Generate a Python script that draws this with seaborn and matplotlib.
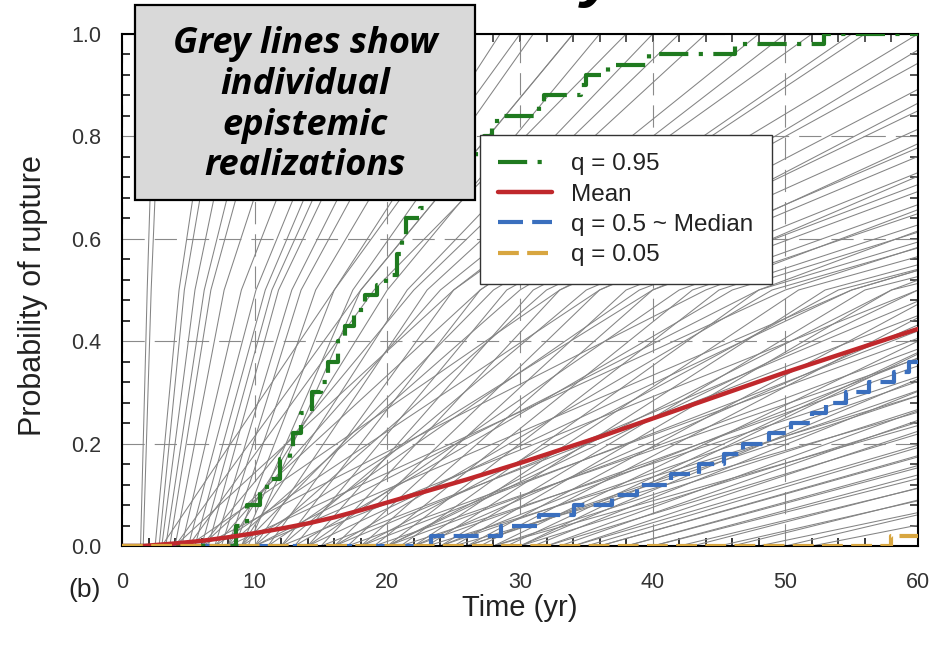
import numpy as np
import pandas as pd
import seaborn as sns
import matplotlib.pyplot as plt
from matplotlib.patches import Rectangle
from matplotlib.ticker import MultipleLocator, FormatStrFormatter

# quantile / mean curves (time in yr, probability)
t_q95 = [0, 8.6, 9.4, 10.4, 10.9, 11.9, 12.7, 12.9, 13.5, 14.3, 15.0, 15.5, 16.3, 16.8,
         17.5, 18.3, 19.2, 19.9, 20.7, 21.1, 21.4, 22.5, 22.9, 23.8, 24.6, 25.3, 26.0,
         26.7, 27.3, 27.9, 28.3, 31.4, 31.8, 34.6, 35.0, 36.6, 39.7, 46.2, 52.9, 60]
p_q95 = [0, 0.04, 0.08, 0.11, 0.13, 0.17, 0.19, 0.22, 0.26, 0.30, 0.32, 0.36, 0.40, 0.43,
         0.46, 0.49, 0.51, 0.53, 0.57, 0.60, 0.64, 0.66, 0.68, 0.70, 0.72, 0.74, 0.76,
         0.78, 0.80, 0.82, 0.84, 0.86, 0.88, 0.90, 0.92, 0.94, 0.96, 0.98, 1.00, 1.00]

t_mean = [0, 1.6, 4, 6, 8, 10, 12, 14, 16, 18, 20, 22, 24, 26, 28, 30, 32, 34, 36, 38,
          40, 42, 44, 46, 48, 50, 52, 54, 56, 58, 60]
p_mean = [0, 0, 0.005, 0.01, 0.017, 0.025, 0.034, 0.044, 0.056, 0.07, 0.085, 0.1, 0.115,
          0.13, 0.146, 0.162, 0.179, 0.196, 0.213, 0.231, 0.249, 0.267, 0.285, 0.303,
          0.321, 0.339, 0.356, 0.373, 0.39, 0.407, 0.424]

t_med = [0, 23.3, 28.6, 31.4, 34.1, 36.9, 38.8, 41.4, 43.5, 45.4, 46.8, 48.8, 50.4, 52.0,
         53.1, 54.6, 56.3, 58.2, 59.3, 60]
p_med = [0, 0.02, 0.04, 0.06, 0.08, 0.10, 0.12, 0.14, 0.16, 0.18, 0.20, 0.22, 0.24, 0.26,
         0.28, 0.30, 0.32, 0.34, 0.36, 0.36]

t_q05 = [0, 58.0, 60]
p_q05 = [0, 0.02, 0.02]

# grey epistemic realizations: time at which each reaches 0, 0.5 and 1.0 (estimated)
grey_start = [1.4, 1.6, 2.5, 2.8, 3.0, 3.3, 3.6, 4.0, 4.5, 5.0, 5.5, 6.0, 6.5, 7.0, 7.5,
              8.0, 8.5, 9.0, 9.5,
              8, 9, 10, 7, 11, 12, 9, 13, 14, 10, 15, 12, 16, 17, 11, 18, 14, 19, 20, 13,
              21, 16, 22, 23, 18, 24, 25, 20, 26, 27, 22, 28, 29, 24, 30, 31, 26, 32, 33,
              34, 28, 35, 36, 38, 40, 42, 45, 48, 52,
              3, 4, 5, 6, 4, 6, 8, 5, 7, 9, 6, 8, 10, 12, 15, 17, 19, 21, 23, 25,
              14, 16, 18, 20, 22, 24, 26, 28, 30, 32, 34, 36, 38, 40, 43, 46, 50, 30, 20, 10]
grey_half = [1.9, 2.2, 4.3, 4.7, 5.5, 6.2, 6.7, 7.7, 9.0, 10.1, 10.8, 11.3, 11.8, 12.8,
             13.5, 14.6, 16.0, 17.4, 18.0,
             20, 21.5, 23, 24, 25, 27, 28, 29, 31, 32, 33, 35, 36, 38, 39, 40, 42, 43, 45,
             46, 48, 49, 51, 53, 54, 56, 58, 60, 62, 64, 66, 68, 70, 73, 76, 79, 82, 85,
             88, 92, 96, 100, 105, 110, 116, 122, 130, 140, 150,
             16, 18, 19, 22, 25, 27, 30, 33, 36, 40, 44, 50, 55, 60, 65, 70, 75, 80, 86, 92,
             55, 62, 68, 72, 76, 80, 84, 88, 92, 96, 100, 104, 108, 112, 118, 124, 132, 70,
             58, 48]
grey_full = [2.5, 3.0, 7.2, 8.0, 9.5, 11.0, 12.0, 14.0, 16.5, 18.0, 19.0, 20.0, 21.0,
             22.5, 24.0, 26.0, 28.5, 31.0, 34.0,
             36, 40, 44, 48, 52, 56, 60, 64, 68, 72, 76, 80, 82, 86, 90, 92, 96, 100, 104,
             108, 112, 116, 120, 124, 128, 132, 136, 140, 144, 148, 152, 156, 160, 164,
             170, 176, 182, 188, 194, 200, 206, 212, 220, 228, 236, 244, 255, 270, 290,
             30, 34, 38, 42, 50, 55, 62, 70, 78, 85, 95, 110, 120, 130, 140, 150, 160,
             170, 180, 190,
             120, 130, 140, 145, 150, 160, 165, 170, 175, 180, 185, 190, 195, 200, 210,
             220, 230, 130, 110, 100]

grey_levels = [0.0, 0.5, 1.0]

rows = []
for i in range(len(grey_start)):
    for t, p in zip([grey_start[i], grey_half[i], grey_full[i]], grey_levels):
        rows.append({'line': i, 't': t, 'p': p})
grey = pd.DataFrame(rows)

sns.set_theme(style='white')
plt.rcParams['font.family'] = ['Liberation Sans', 'DejaVu Sans']

fig = plt.figure(figsize=(9.42, 6.5), dpi=100)
ax = fig.add_axes([0.1295, 0.16, 0.845, 0.7877])

sns.lineplot(data=grey, x='t', y='p', units='line', estimator=None, color='#848484',
             lw=0.75, ax=ax, zorder=1, legend=False)

sns.lineplot(x=t_med, y=p_med, estimator=None, drawstyle='steps-post', color='#3a6fbe',
             lw=3.0, linestyle=(0, (6, 2.2)), label='q = 0.5 ~ Median', ax=ax, zorder=3)
sns.lineplot(x=t_q95, y=p_q95, estimator=None, drawstyle='steps-post', color='#1f7a1f',
             lw=3.0, linestyle=(0, (7, 2.5, 1, 2.5)), label='q = 0.95', ax=ax, zorder=3)
sns.lineplot(x=t_mean, y=p_mean, estimator=None, color='#c0282c', lw=3.2,
             label='Mean', ax=ax, zorder=4)
sns.lineplot(x=t_q05, y=p_q05, estimator=None, drawstyle='steps-post', color='#d8a640',
             lw=3.0, linestyle=(0, (5, 2)), label='q = 0.05', ax=ax, zorder=4.5)

ax.set_xlim(0, 60)
ax.set_ylim(0, 1.0)
ax.xaxis.set_major_locator(MultipleLocator(10))
ax.xaxis.set_minor_locator(MultipleLocator(2))
ax.yaxis.set_major_locator(MultipleLocator(0.2))
ax.yaxis.set_minor_locator(MultipleLocator(0.04))
ax.yaxis.set_major_formatter(FormatStrFormatter('%.1f'))
ax.tick_params(which='major', direction='out', length=8, width=1.2, labelsize=15.5,
               labelcolor='#333333', color='black')
ax.tick_params(axis='x', which='major', pad=11)
ax.tick_params(axis='y', which='major', pad=7)
ax.tick_params(which='minor', direction='in', length=6, width=1.1, color='black',
               bottom=True, left=True)

top = ax.secondary_xaxis('top')
top.xaxis.set_major_locator(MultipleLocator(2))
top.tick_params(direction='in', length=6, width=1.1, labeltop=False)
right = ax.secondary_yaxis('right')
right.yaxis.set_major_locator(MultipleLocator(0.04))
right.tick_params(direction='in', length=6, width=1.1, labelright=False)

for sp in ax.spines.values():
    sp.set_color('black')
    sp.set_linewidth(1.5)

ax.grid(True, which='major', color='#8a8a8a', linestyle=(0, (20, 9)), linewidth=0.8)
ax.set_axisbelow(True)

ax.set_xlabel('Time (yr)', fontsize=21, color='#222222', va='center')
ax.xaxis.set_label_coords(0.5, -0.122)
ax.set_ylabel('Probability of rupture', fontsize=22, color='#222222', va='center')
ax.yaxis.set_label_coords(-0.112, 0.49)

handles, labels = ax.get_legend_handles_labels()
order = ['q = 0.95', 'Mean', 'q = 0.5 ~ Median', 'q = 0.05']
hmap = dict(zip(labels, handles))
leg = ax.legend([hmap[k] for k in order], order, loc='upper left',
                bbox_to_anchor=(480 / 942, 1 - 135 / 650), bbox_transform=fig.transFigure,
                fontsize=17.5, frameon=True, fancybox=False, edgecolor='#333333',
                framealpha=1, borderpad=0.75, labelspacing=0.34, handlelength=2.2,
                handletextpad=0.8, borderaxespad=0)
leg.get_frame().set_linewidth(1.0)
for txt in leg.get_texts():
    txt.set_color('#222222')

# annotation box in the upper left
fig.add_artist(Rectangle((135 / 942, 1 - 200 / 650), 340 / 942, 195 / 650,
                         transform=fig.transFigure, facecolor='#d9d9d9',
                         edgecolor='black', lw=1.6, zorder=5))
fig.text(0.3238, 0.838, 'Grey lines show\nindividual\nepistemic\nrealizations',
         ha='center', va='center', fontsize=26, fontweight='bold', style='italic',
         family=['Open Sans', 'DejaVu Sans'], linespacing=1.17, color='black', zorder=6)

fig.text(85 / 942, 1 - 590 / 650, '(b)', fontsize=19, ha='center', va='center',
         color='#222222')
# descender of the cropped title letter at the top edge
fig.text(0.636, 1.01, 'y', fontsize=48, fontweight='bold', style='italic',
         ha='center', va='baseline', family=['Liberation Sans', 'DejaVu Sans'],
         color='black')

fig.savefig('out.png', dpi=100)
